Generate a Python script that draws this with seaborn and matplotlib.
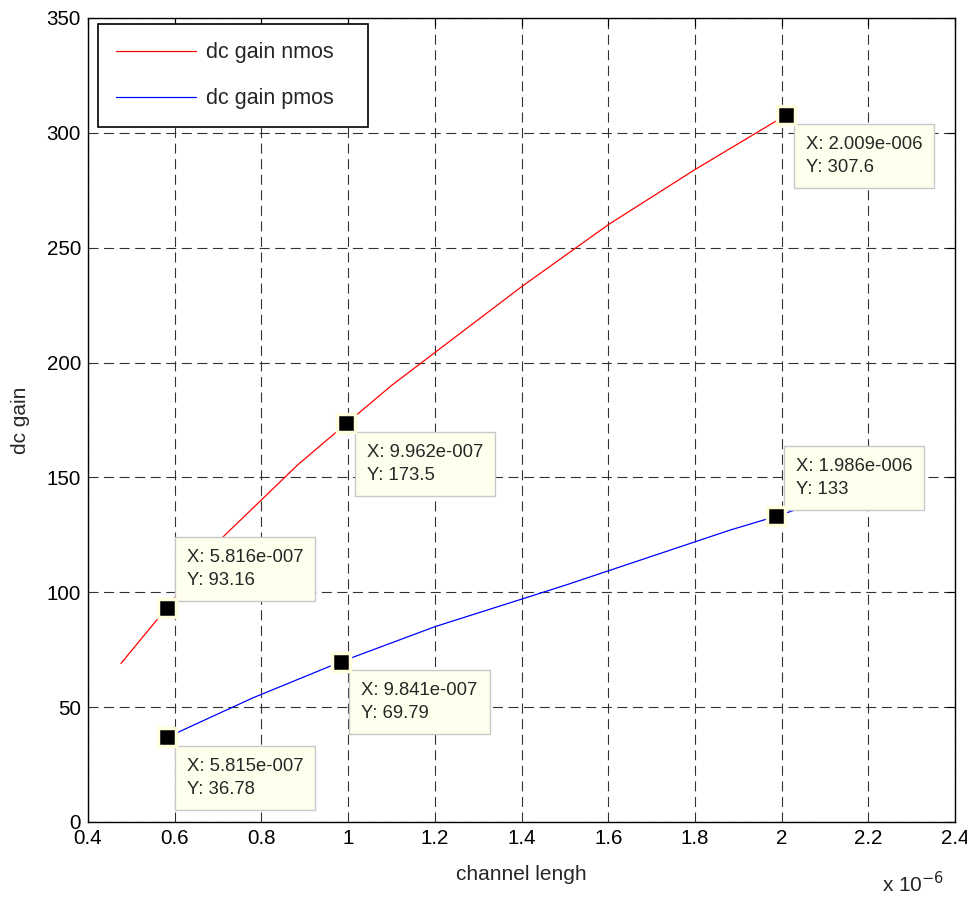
import numpy as np
import pandas as pd
import matplotlib
matplotlib.use('Agg')
import matplotlib.pyplot as plt
import seaborn as sns

# channel length in meters, dc gain
len_nmos = [0.476e-6, 0.5816e-6, 0.70e-6, 0.884e-6, 0.9962e-6, 1.10e-6,
            1.40e-6, 1.60e-6, 1.80e-6, 2.009e-6]
gain_nmos = [69.0, 93.16, 122.0, 155.5, 173.5, 190.0, 233.0, 260.0, 284.0,
             307.6]
len_pmos = [0.5815e-6, 0.78e-6, 0.9841e-6, 1.20e-6, 1.50e-6, 1.88e-6,
            1.986e-6, 2.05e-6]
gain_pmos = [36.78, 54.0, 69.79, 85.0, 103.0, 127.0, 133.0, 137.0]

# data tips
tips_x = [0.5816e-6, 0.9962e-6, 2.009e-6, 0.5815e-6, 0.9841e-6, 1.986e-6]
tips_y = [93.16, 173.5, 307.6, 36.78, 69.79, 133.0]
tips_lbl = ['Y: 93.16', 'Y: 173.5', 'Y: 307.6', 'Y: 36.78', 'Y: 69.79',
            'Y: 133']
tips_above = [True, False, False, False, False, True]

df = pd.concat([
    pd.DataFrame({'L': np.array(len_nmos) * 1e6, 'gain': gain_nmos,
                  'curve': 'dc gain nmos'}),
    pd.DataFrame({'L': np.array(len_pmos) * 1e6, 'gain': gain_pmos,
                  'curve': 'dc gain pmos'}),
])

sns.set_style('white')
plt.rcParams['font.family'] = ['Liberation Sans', 'DejaVu Sans']

fig = plt.figure(figsize=(9.67, 9.0), dpi=100)
ax = fig.add_axes([0.091, 0.0867, 0.8966, 0.8933])

sns.lineplot(data=df, x='L', y='gain', hue='curve', sort=False,
             estimator=None, palette={'dc gain nmos': '#ff0000',
                                      'dc gain pmos': '#0000ff'},
             linewidth=0.9, ax=ax)

ax.set_xlim(0.4, 2.4)
ax.set_ylim(0, 350)
ax.set_xticks(np.arange(0.4, 2.41, 0.2))
ax.set_xticklabels(['0.4', '0.6', '0.8', '1', '1.2', '1.4', '1.6', '1.8',
                    '2', '2.2', '2.4'])
ax.set_yticks(np.arange(0, 351, 50))
ax.tick_params(direction='in', length=6, labelsize=14.8, top=True,
               right=True, colors='black', pad=5)
ax.tick_params(axis='x', pad=5)
ax.grid(True, color='#333333', linestyle=(0, (9, 5)), linewidth=0.8)
for sp in ax.spines.values():
    sp.set_color('black')
    sp.set_linewidth(1.0)
ax.set_xlabel('channel lengh', fontsize=15, labelpad=12)
ax.set_ylabel('dc gain', fontsize=15, labelpad=12)
ax.text(0.988, -0.077, r'x 10$^{-6}$', transform=ax.transAxes, ha='right',
        va='center', fontsize=15)

leg = ax.legend(loc='upper left', fontsize=15.5, handlelength=3.7,
                handletextpad=0.45, borderpad=0.85, labelspacing=1.15,
                fancybox=False, framealpha=1, edgecolor='black',
                bbox_to_anchor=(0.0115, 0.5, 0.3114, 0.4925), mode='expand',
                borderaxespad=0)
leg.set_title(None)
leg.get_frame().set_linewidth(1.2)

for x, y, lbl, above in zip(tips_x, tips_y, tips_lbl, tips_above):
    ax.plot(x * 1e6, y, marker='s', markersize=12.5, color='black',
            markeredgecolor='#ffffdd', markeredgewidth=2.5, zorder=7)
    xs = '%.3e' % x
    mant, ex = xs.split('e')
    txt = 'X: %se%s%03d\n%s' % (mant, ex[0], abs(int(ex)), lbl)
    ax.annotate(txt, (x * 1e6, y), xytext=(14.5, 13.5 if above else -15),
                textcoords='offset points', ha='left',
                va='bottom' if above else 'top', fontsize=13.3,
                linespacing=1.45, zorder=6,
                bbox=dict(boxstyle='square,pad=0.65', fc='#ffffee',
                          ec='#c8c8c8', lw=1))

fig.savefig('out.png', dpi=100)
